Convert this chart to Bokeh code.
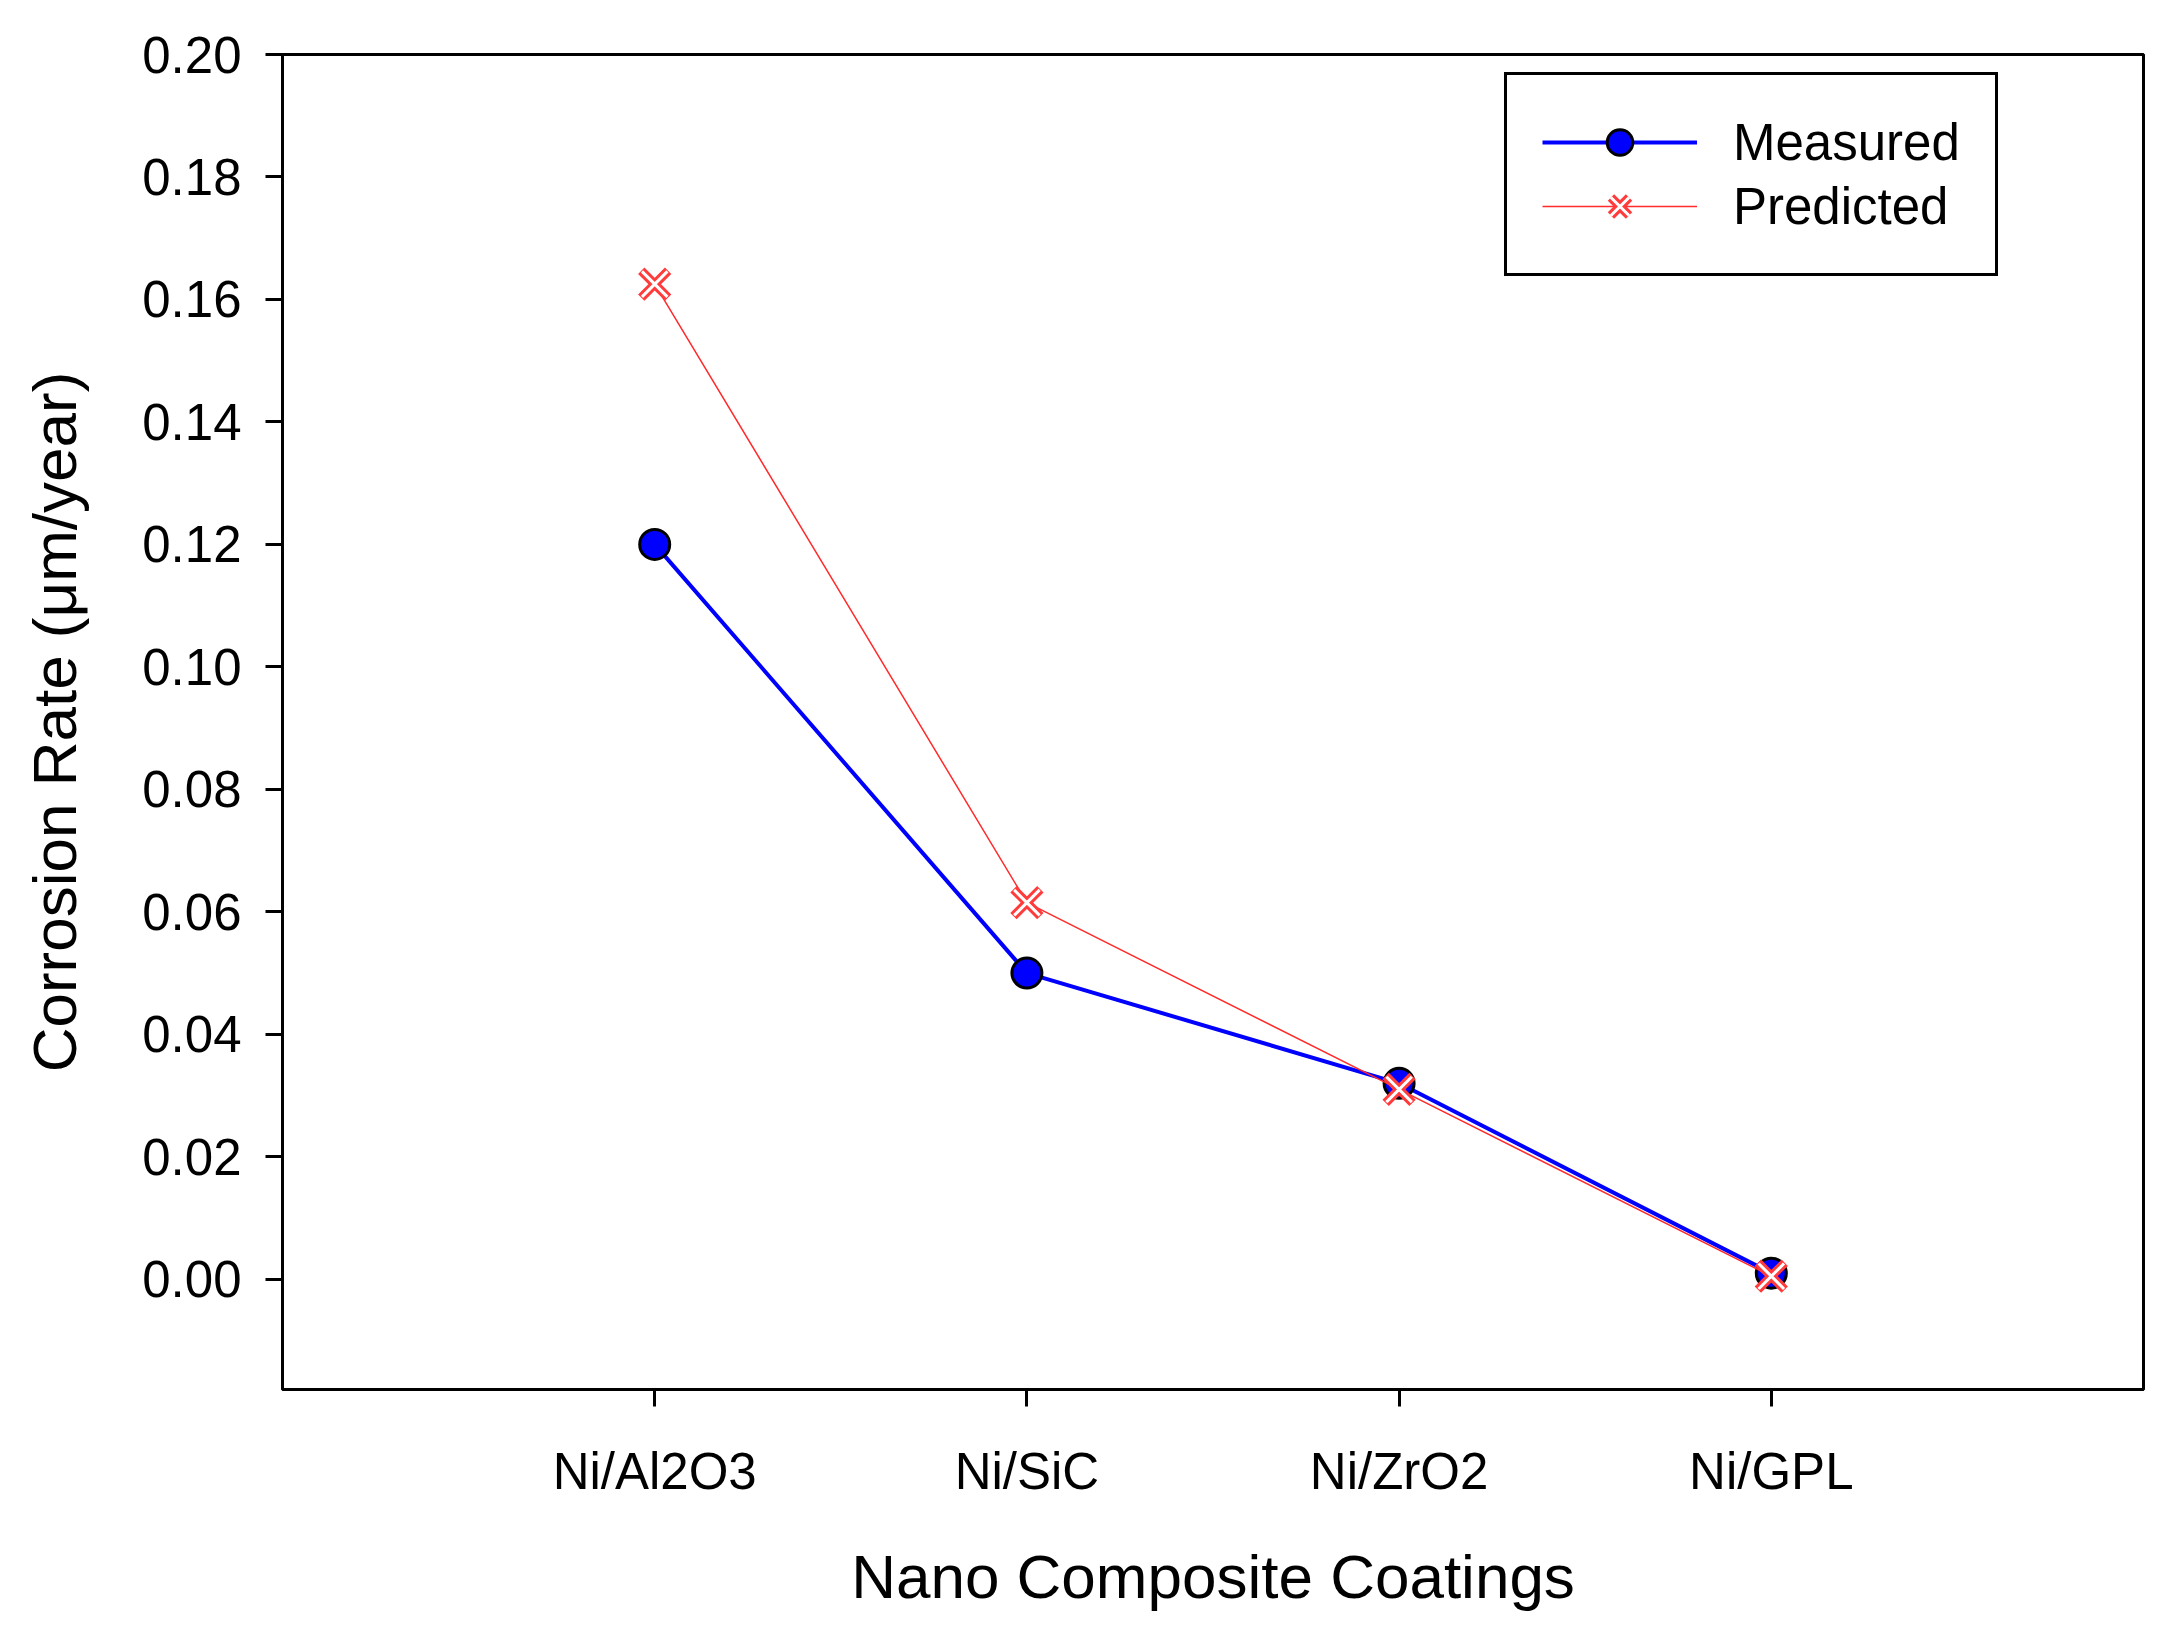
from bokeh.plotting import figure
from bokeh.models import Range1d, FixedTicker, NumeralTickFormatter, Legend, LegendItem, ColumnDataSource
from bokeh.embed import file_html
from bokeh.resources import INLINE

# ---- data ----
categories = ["Ni/Al2O3", "Ni/SiC", "Ni/ZrO2", "Ni/GPL"]
measured = [0.120, 0.050, 0.032, 0.001]
predicted = [0.1625, 0.0615, 0.031, 0.0005]
y_ticks = [0.00, 0.02, 0.04, 0.06, 0.08, 0.10, 0.12, 0.14, 0.16, 0.18, 0.20]
x_title = "Nano Composite Coatings"
y_title = "Corrosion Rate (\u03bcm/year)"

xpos = [i + 1 for i in range(len(categories))]
src = ColumnDataSource(dict(x=xpos, measured=measured, predicted=predicted))

FONT = "Liberation Sans"

p = figure(width=2145, height=1621, output_backend="svg", toolbar_location=None,
           x_range=Range1d(0, len(categories) + 1), y_range=Range1d(-0.018, 0.20),
           min_border_left=282, min_border_right=2, min_border_top=54, min_border_bottom=232)

p.background_fill_color = "white"
p.border_fill_color = "white"
p.xgrid.visible = False
p.ygrid.visible = False
p.outline_line_color = "black"
p.outline_line_width = 3
p.outline_line_alpha = 1.0

for ax in (p.xaxis[0], p.yaxis[0]):
    ax.axis_line_width = 3
    ax.axis_line_color = "black"
    ax.major_tick_line_width = 3
    ax.major_tick_line_color = "black"
    ax.major_tick_out = 17
    ax.major_tick_in = 0
    ax.minor_tick_line_color = None
    ax.major_label_text_font = FONT
    ax.major_label_text_font_size = "51px"
    ax.major_label_text_color = "black"
    ax.axis_label_text_font = FONT
    ax.axis_label_text_font_size = "62px"
    ax.axis_label_text_font_style = "normal"
    ax.axis_label_text_color = "black"

p.xaxis.ticker = FixedTicker(ticks=xpos)
p.xaxis.major_label_overrides = {x: c for x, c in zip(xpos, categories)}
p.xaxis.axis_label = x_title
p.xaxis.major_label_standoff = 36
p.xaxis.axis_label_standoff = 39

p.yaxis.ticker = FixedTicker(ticks=y_ticks)
p.yaxis.formatter = NumeralTickFormatter(format="0.00")
p.yaxis.axis_label = y_title
p.yaxis.major_label_standoff = 24
p.yaxis.axis_label_standoff = 50

r_ml = p.line("x", "measured", source=src, line_color="#0000ff", line_width=4)
r_mc = p.scatter("x", "measured", source=src, marker="circle", size=30,
                 fill_color="#0000ff", line_color="black", line_width=3)
r_pl = p.line("x", "predicted", source=src, line_color="#ff2a2a", line_width=1.5)
r_px = p.scatter("x", "predicted", source=src, marker="x", size=38,
                 line_color="#ff3b3b", line_width=9)
r_pxw = p.scatter("x", "predicted", source=src, marker="x", size=36,
                  line_color="white", line_width=3)

legend = Legend(items=[LegendItem(label="Measured", renderers=[r_ml, r_mc]),
                       LegendItem(label="Predicted", renderers=[r_pl, r_px, r_pxw])],
                location=(1222, 1113))
legend.margin = 0
legend.padding = 35
legend.spacing = 0
legend.glyph_width = 155
legend.glyph_height = 64
legend.label_height = 58
legend.label_standoff = 36
legend.label_text_font = FONT
legend.label_text_font_size = "51px"
legend.label_text_color = "black"
legend.border_line_color = "black"
legend.border_line_width = 3
legend.border_line_alpha = 1.0
legend.background_fill_color = "white"
legend.background_fill_alpha = 1.0
p.add_layout(legend)

open("out.html", "w").write(file_html(p, INLINE))
